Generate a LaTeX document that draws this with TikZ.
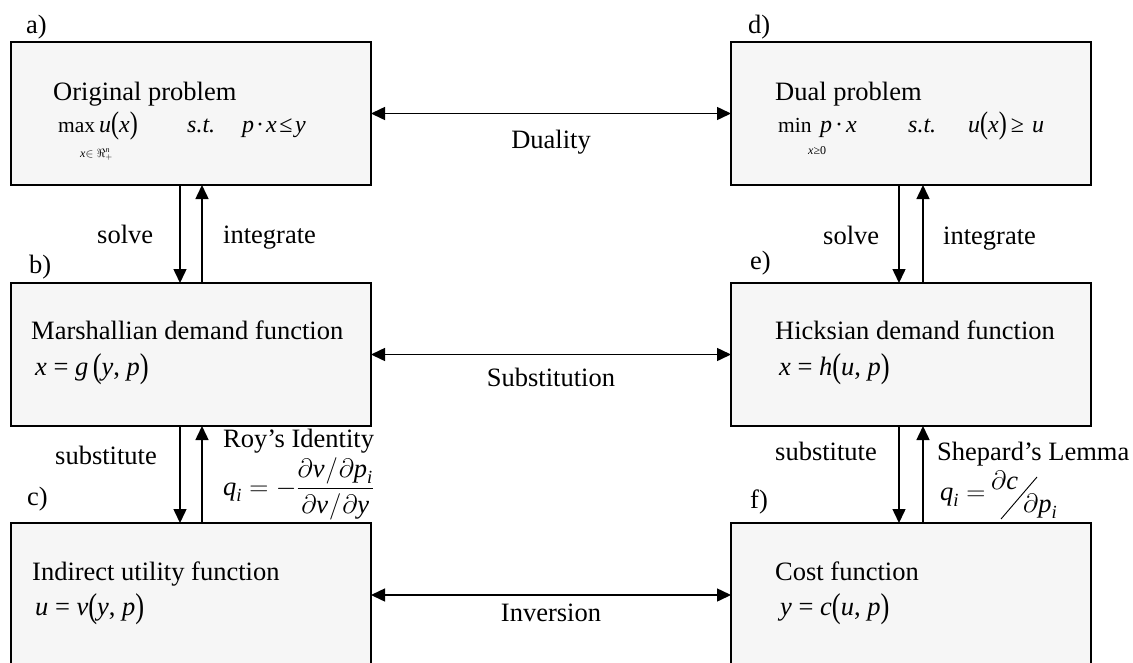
\RequirePackage{fix-cm}
\documentclass[tikz,border=0pt]{standalone}
\usepackage{amsmath}
\usepackage{fontspec}
\setmainfont{Liberation Serif}
\usepackage{graphicx}
\usetikzlibrary{arrows.meta,calc}
\definecolor{boxgray}{RGB}{246,246,246}
\newcommand\ii[1]{\textit{#1}}
\newcommand\lp{\raisebox{-0.08em}{\scalebox{1}[1.3]{(}}}
\newcommand\rp{\raisebox{-0.08em}{\scalebox{1}[1.3]{)}}}
\begin{document}
\begin{tikzpicture}[x=1pt,y=-1pt,
  box/.style={draw,rectangle,line width=1.8pt,fill=boxgray,minimum width=360pt,minimum height=143pt,inner sep=0pt,outer sep=0pt},
  txt/.style={anchor=base west,inner sep=0pt,font=\fontsize{26.5}{30}\selectfont},
  mtxt/.style={anchor=base west,inner sep=0pt,font=\fontsize{24}{28}\selectfont},
  optxt/.style={anchor=base west,inner sep=0pt,font=\fontsize{21.5}{24}\selectfont},
  ctxt/.style={anchor=base,inner sep=0pt,font=\fontsize{26.5}{30}\selectfont},
  subtxt/.style={anchor=base west,inner sep=0pt,font=\fontsize{12}{14}\selectfont},
  arr/.style={line width=1.5pt,-{Triangle[length=14pt,width=13pt]}},
  darr/.style={line width=1.5pt,{Triangle[length=14pt,width=13pt]}-{Triangle[length=14pt,width=13pt]}}]
\useasboundingbox (0,0) rectangle (1133,662);
\begin{scope}
\clip (0,0) rectangle (1133,662);
\node[box] (a) at (191,113.5) {};
\node[box] (d) at (911,113.5) {};
\node[box] (b) at (191,354.5) {};
\node[box] (e) at (911,354.5) {};
\node[box,minimum height=144pt] (c) at (191,595) {};
\node[box,minimum height=144pt] (f) at (911,595) {};
\end{scope}
% letters
\node[txt] (la) at (26,33) {a)};
\node[txt] (lb) at (29,273) {b)};
\node[txt] (lc) at (27,505) {c)};
\node[txt] (ld) at (748,33) {d)};
\node[txt] (le) at (750,269) {e)};
\node[txt] (lf) at (750,508) {f)};
% box a
\node[txt] (ta) at (53,100) {Original problem};
\node[optxt] (ma0) at (58,132) {max};
\node[mtxt] (ma1) at (99,132) {\ii{u}\lp\ii{x}\rp};
\node[subtxt] (ma2) at (80,157) {\ii{x}$\in\Re_{+}^{\ii{n}}$};
\node[mtxt] (ma3) at (187,132) {\ii{s.t.}};
\node[mtxt] (ma4) at (242,132) {\ii{p}\kern2pt·\kern2pt\ii{x}\kern2.5pt≤\kern2.5pt\ii{y}};
% box d
\node[txt] (td) at (775,100) {Dual problem};
\node[optxt] (md0) at (778,132) {min};
\node[mtxt] (md1) at (820,132) {\ii{p}\kern3pt·\kern3pt\ii{x}};
\node[subtxt] (md2) at (808,154) {\ii{x}≥0};
\node[mtxt] (md3) at (908,132) {\ii{s.t.}};
\node[mtxt] (md4) at (968,132) {\ii{u}\lp\ii{x}\rp\kern4pt≥\kern8pt\ii{u}};
% box b, e
\node[txt] (tb) at (31,339) {Marshallian demand function};
\node[txt] (mb) at (35,375) {\ii{x} = \ii{g}\,\lp\ii{y}, \ii{p}\rp};
\node[txt] (te) at (775,339) {Hicksian demand function};
\node[txt] (me) at (779,375) {\ii{x} = \ii{h}\lp\ii{u}, \ii{p}\rp};
% box c, f
\node[txt] (tc) at (32,580) {Indirect utility function};
\node[txt] (mc) at (35,615) {\ii{u} = \ii{v}\lp\ii{y}, \ii{p}\rp};
\node[txt] (tf) at (775,580) {Cost function};
\node[txt] (mf) at (780,615) {\ii{y} = \ii{c}\lp\ii{u}, \ii{p}\rp};
% horizontal arrows
\draw[darr] (a.east) -- (d.west);
\draw[darr] (b.east) -- (e.west);
\draw[darr] (c.east) -- (f.west);
\node[ctxt] (l1) at (551,148) {Duality};
\node[ctxt] (l2) at (551,386) {Substitution};
\node[ctxt] (l3) at (551,621) {Inversion};
% vertical arrows left
\draw[arr] ($(a.south west)+(169,0)$) -- ($(b.north west)+(169,0)$);
\draw[arr] ($(b.north west)+(191,0)$) -- ($(a.south west)+(191,0)$);
\draw[arr] ($(b.south west)+(169,0)$) -- ($(c.north west)+(169,0)$);
\draw[arr] ($(c.north west)+(191,0)$) -- ($(b.south west)+(191,0)$);
% vertical arrows right
\draw[arr] ($(d.south west)+(168,0)$) -- ($(e.north west)+(168,0)$);
\draw[arr] ($(e.north west)+(192,0)$) -- ($(d.south west)+(192,0)$);
\draw[arr] ($(e.south west)+(168,0)$) -- ($(f.north west)+(168,0)$);
\draw[arr] ($(f.north west)+(192,0)$) -- ($(e.south west)+(192,0)$);
% arrow labels
\node[txt] (s1) at (97,243) {solve};
\node[txt] (i1) at (223,243) {integrate};
\node[txt] (s2) at (823,244) {solve};
\node[txt] (i2) at (943,244) {integrate};
\node[txt] (s3) at (55,464) {substitute};
\node[txt] (s4) at (775,460) {substitute};
\node[txt] (roy) at (223,447) {Roy’s Identity};
\node[txt] (royf) at (223,495) {$\ii{q}_{\ii{i}} = -\dfrac{\partial \ii{v}\kern1pt/\kern1pt\partial \ii{p}_{\ii{i}}}{\partial \ii{v}\kern1pt/\kern1pt\partial \ii{y}}$};
\node[txt] (shep) at (937,460) {Shepard’s Lemma};
\node[txt] (shepq) at (940,500) {$\ii{q}_{\ii{i}} =$};
\node[txt] (shepn) at (991,489) {$\partial\ii{c}$};
\node[txt] (shepd) at (1023,512) {$\partial\ii{p}_{\ii{i}}$};
\coordinate (slt) at (1037,477);
\coordinate (slb) at (1001,519);
\draw[line width=0.9pt] (slt) -- (slb);
\end{tikzpicture}
\end{document}
